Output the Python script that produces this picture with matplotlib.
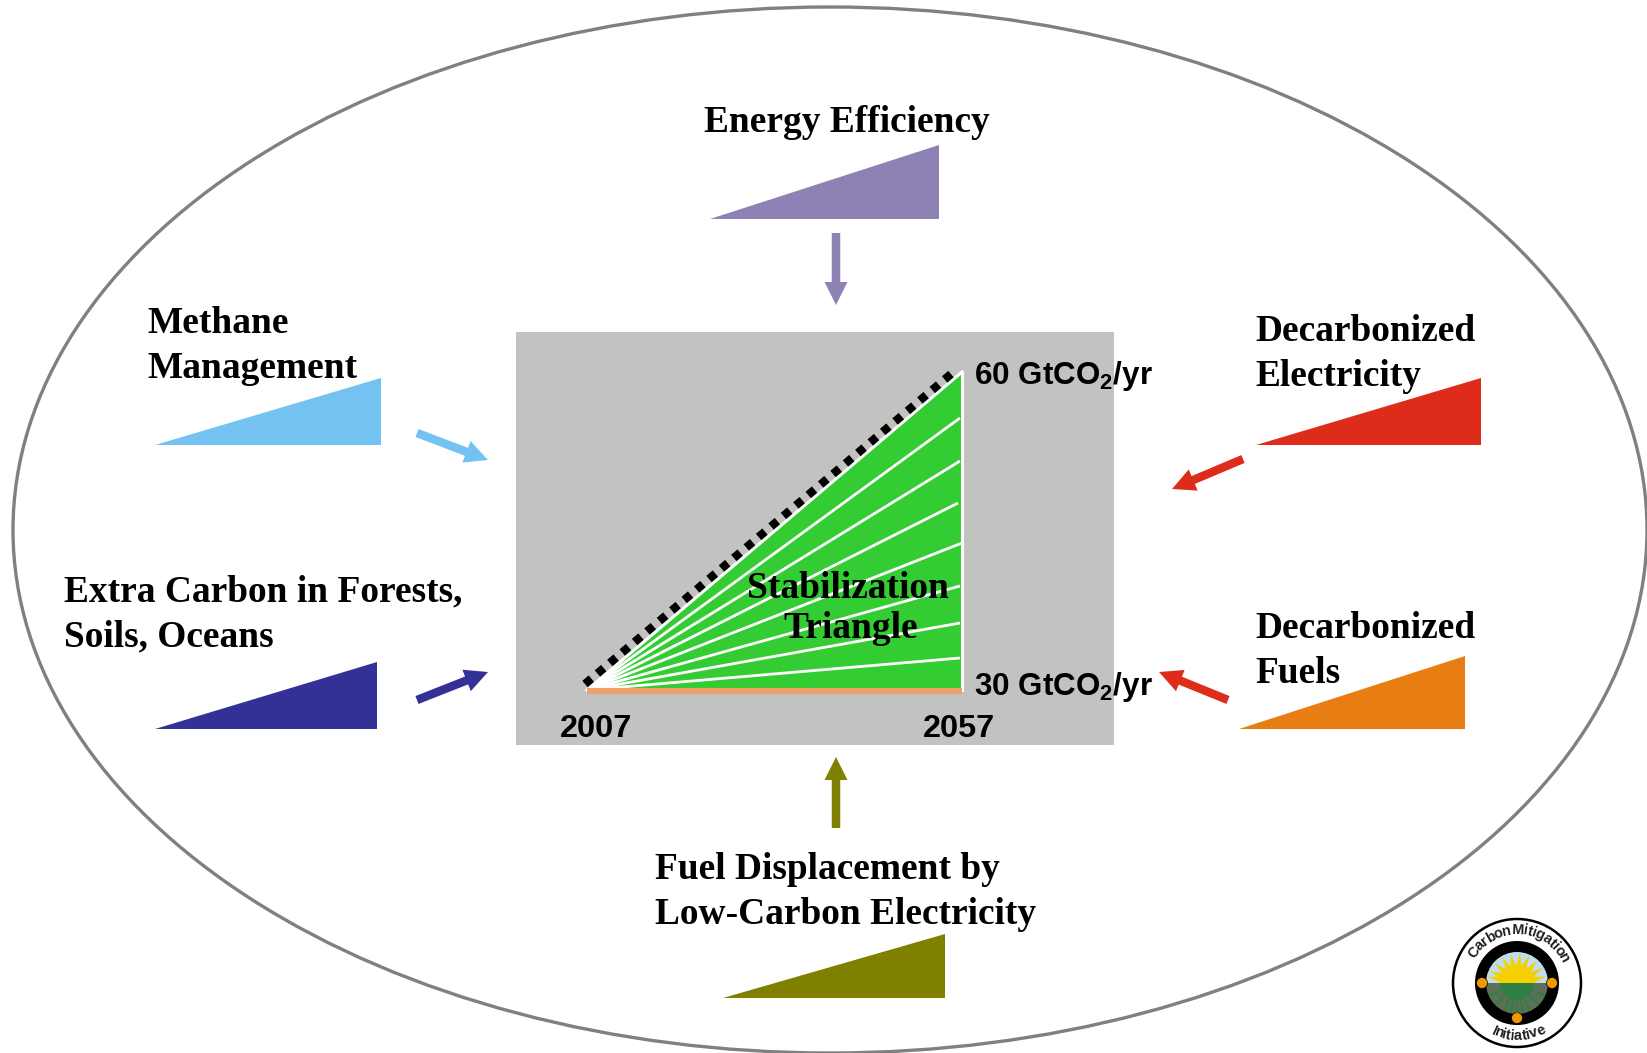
import numpy as np
import matplotlib
matplotlib.use("Agg")
import matplotlib.pyplot as plt
from matplotlib.patches import Ellipse, Polygon, Rectangle, Circle, Wedge
from matplotlib.textpath import TextPath
from matplotlib.font_manager import FontProperties

plt.rcParams['mathtext.fontset'] = 'custom'
plt.rcParams['mathtext.bf'] = 'Liberation Sans:bold'
plt.rcParams['mathtext.rm'] = 'Liberation Sans:bold'

SERIF = 'Liberation Serif'
SANS = 'Liberation Sans'

# wedge names, corners (left x, right x, base y, top y), colours
wedge_names = ["Energy Efficiency", "Methane Management", "Decarbonized Electricity",
               "Extra Carbon", "Decarbonized Fuels", "Fuel Displacement"]
wedge_left = [710, 155, 1256, 155, 1239, 723]
wedge_right = [939, 380.5, 1481, 376.5, 1464.5, 945]
wedge_base = [218.5, 445, 445, 729, 729, 997.5]
wedge_top = [145, 378, 378, 661.5, 656, 933.5]
wedge_colors = ['#8E82B5', '#74C2F2', '#DE2C1A', '#343196', '#E87D14', '#808000']

# arrows (start, end) for each wedge
arrow_x0 = [836, 417, 1243, 417, 1228, 836]
arrow_y0 = [233, 433, 459, 700, 700, 828]
arrow_x1 = [836, 488, 1172, 488, 1159, 836]
arrow_y1 = [305, 460, 489, 672, 672, 757]
arrow_colors = ['#8E82B5', '#74C2F2', '#DE2C1A', '#343196', '#DE2C1A', '#808000']

# stabilization triangle
tri_x = [587, 962, 962]
tri_y = [690, 690, 372]
fan_end_x = [960, 960, 958, 962, 960, 960, 960]
fan_end_y = [418, 461, 503, 543, 586, 623, 658]

# labels: text, x, baseline y
wedge_labels = [
    ("Energy Efficiency", 704, 131.5),
    ("Methane", 147, 333),
    ("Management", 147, 378),
    ("Decarbonized", 1255, 341),
    ("Electricity", 1255, 386),
    ("Extra Carbon in Forests,", 64, 601),
    ("Soils, Oceans", 64, 646),
    ("Decarbonized", 1255, 638),
    ("Fuels", 1255, 683),
    ("Fuel Displacement by", 655, 879),
    ("Low-Carbon Electricity", 655, 924),
]
rate_labels = [
    ("60 GtCO$_{\\mathbf{2}}$/yr", 974, 384),
    ("30 GtCO$_{\\mathbf{2}}$/yr", 974, 695),
]
year_labels = [
    ("2007", 560, 737),
    ("2057", 923, 737),
]

# logo
logo_rays = [12, 30, 48, 66, 84, 102, 120, 138, 156, 168]
logo_spokes = [205, 225, 245, 258, 270, 282, 295, 315, 335]
logo_dots = [0, 180, 270]

W, H = 1647, 1053
fig = plt.figure(figsize=(W / 100, H / 100), dpi=100)
ax = fig.add_axes([0, 0, 1, 1])
ax.set_xlim(0, W)
ax.set_ylim(H, 0)
ax.axis('off')

ax.add_patch(Ellipse((830, 530), 1634, 1046, fc='white', ec='#808080', lw=2.4, clip_on=False))
ax.add_patch(Rectangle((516, 331.5), 598, 413, fc='#C2C2C0', ec='none'))

for l, r, b, t, c in zip(wedge_left, wedge_right, wedge_base, wedge_top, wedge_colors):
    ax.add_patch(Polygon([(l, b), (r, b), (r, t)], closed=True, fc=c, ec='none'))
for x0, y0, x1, y1, c in zip(arrow_x0, arrow_y0, arrow_x1, arrow_y1, arrow_colors):
    ax.arrow(x0, y0, x1 - x0, y1 - y0, width=8.5, head_width=23, head_length=23,
             length_includes_head=True, fc=c, ec='none')

ax.add_patch(Polygon(list(zip(tri_x, tri_y)), closed=True, fc='#33CC33', ec='none'))
for xe, ye in zip(fan_end_x, fan_end_y):
    ax.plot([tri_x[0], xe], [tri_y[0], ye], color='white', lw=2.0, solid_capstyle='butt')
ax.plot([tri_x[0], tri_x[2]], [tri_y[0], tri_y[2]], color='white', lw=2.2)
ax.plot([tri_x[1], tri_x[2]], [tri_y[1], tri_y[2]], color='white', lw=2.2)
ax.plot([tri_x[0], tri_x[1]], [tri_y[0] + 1, tri_y[1] + 1], color='#EEA06F', lw=4.4, solid_capstyle='butt')
ax.plot([585, 957], [684, 369], color='black', lw=6, linestyle=(0, (1, 0.95)))

for s, x, y in wedge_labels:
    ax.text(x, y, s, family=SERIF, weight='bold', fontsize=26.9, ha='left', va='baseline', color='black')
ax.text(848, 598, "Stabilization", family=SERIF, weight='bold', fontsize=27, ha='center', va='baseline')
ax.text(851, 638, "Triangle", family=SERIF, weight='bold', fontsize=27, ha='center', va='baseline')
for s, x, y in rate_labels:
    ax.text(x, y, s, family=SANS, weight='bold', fontsize=22.6, ha='left', va='baseline', color='black')
for s, x, y in year_labels:
    ax.text(x, y, s, family=SANS, weight='bold', fontsize=23.4, ha='left', va='baseline', color='black')

# logo
cx, cy = 1517, 983
ax.add_patch(Circle((cx, cy), 64, fc='white', ec='black', lw=1.8, clip_on=False))
ax.add_patch(Circle((cx, cy), 42, fc='black', ec='none'))
ax.add_patch(Wedge((cx, cy), 31, 180, 360, fc='#BFDDF0', ec='none'))
ax.add_patch(Wedge((cx, cy), 31, 0, 180, fc='#5C7058', ec='none'))
ax.add_patch(Wedge((cx, cy), 17, 0, 180, fc='#2F7F45', ec='none'))
for a in logo_spokes:
    t = np.deg2rad(a)
    ax.plot([cx + 19 * np.cos(t), cx + 29 * np.cos(t)], [cy - 19 * np.sin(t), cy - 29 * np.sin(t)],
            color='#2F7F45', lw=1.6)
for a in logo_rays:
    t = np.deg2rad(a)
    d = np.deg2rad(11)
    pts = [(cx + 16 * np.cos(t - d), cy - 16 * np.sin(t - d)),
           (cx + 30 * np.cos(t), cy - 30 * np.sin(t)),
           (cx + 16 * np.cos(t + d), cy - 16 * np.sin(t + d))]
    ax.add_patch(Polygon(pts, closed=True, fc='#F5D000', ec='none'))
ax.add_patch(Wedge((cx, cy), 18, 180, 360, fc='#F5D000', ec='none'))
for a in logo_dots:
    t = np.deg2rad(a)
    ax.add_patch(Circle((cx + 35 * np.cos(t), cy - 35 * np.sin(t)), 5.5, fc='#F09A00', ec='black', lw=0.5))


LOGO_SIZE = 10.5
fp = FontProperties(family=SANS, weight='bold')


def arc_text(s, radius, a_start, a_end, top=True):
    widths = [TextPath((0, 0), c if c != ' ' else 'i', size=LOGO_SIZE, prop=fp).get_extents().width + 1.2
              for c in s]
    edges = np.concatenate([[0], np.cumsum(widths)])
    mids = (edges[:-1] + edges[1:]) / 2 / edges[-1]
    for ch, f in zip(s, mids):
        a = a_start + (a_end - a_start) * f
        t = np.deg2rad(a)
        rot = a - 90 if top else a + 90
        ax.text(cx + radius * np.cos(t), cy - radius * np.sin(t), ch, family=SANS, weight='bold',
                fontsize=LOGO_SIZE, color='#222222', rotation=rot, rotation_mode='anchor',
                ha='center', va='center')


arc_text("Carbon Mitigation", 53, 150, 24, top=True)
arc_text("Initiative", 53, 243, 301, top=False)

fig.savefig('out.png', dpi=100)
